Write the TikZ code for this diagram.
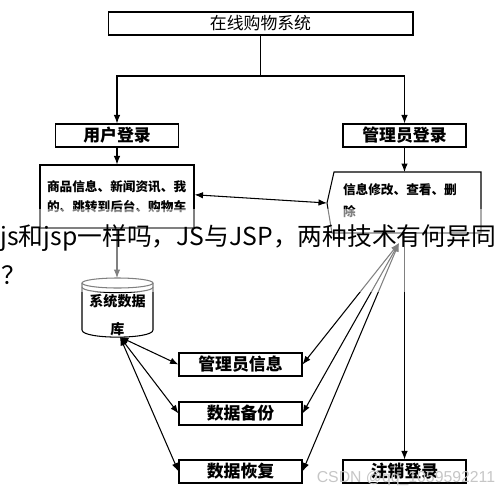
\documentclass[tikz,border=0pt]{standalone}
\usepackage{fontspec}
\setmainfont{Liberation Sans}
\newfontfamily\cjk{Noto Sans CJK SC}
\usetikzlibrary{arrows.meta}

\begin{document}
\begin{tikzpicture}[x=0.02cm,y=-0.02cm,line width=0.6pt,
		box/.style={draw,minimum width=2.46cm,minimum height=0.46cm,inner sep=0pt,font=\cjk\bfseries\fontsize{9.6}{10}\selectfont},
		arr/.style={-{Latex[length=1.7mm,width=1.3mm]}},
		darr/.style={{Latex[length=1.7mm,width=1.3mm]}-{Latex[length=1.7mm,width=1.3mm]}}]
		\useasboundingbox (0,0) rectangle (500,490);
		\node[box,minimum width=6.1cm,font=\cjk\fontsize{9.6}{10}\selectfont] (sys) at (260.5,23.5) {在线购物系统};
		\node[box] (user) at (117,135.5) {用户登录};
		\node[box] (admin) at (404.5,135.5) {管理员登录};
		\node[box,minimum width=3.08cm,minimum height=1.26cm,text width=2.8cm,align=left,font=\cjk\bfseries\fontsize{7.2}{11.3}\selectfont] (shop) at (117,196.5) {商品信息、新闻资讯、我\\的、跳转到后台、购物车};
		\node[box] (info) at (240.5,364.5) {管理员信息};
		\node[box] (backup) at (240.5,413.5) {数据备份};
		\node[box] (restore) at (240.5,471.5) {数据恢复};
		\node[box] (logout) at (404.5,471.5) {注销登录};
		\coordinate (split) at (260.5,76);
		\coordinate (tip) at (327,203);
		\coordinate (editbot) at (404.5,233);
		\coordinate (fan) at (399,243);
		\coordinate (dbtop) at (117,278);
		\coordinate (dbbot) at (120,337);
		% admin pentagon
		\draw (334,172) -- (481,172) -- (481,233) -- (332,233) -- (tip) -- cycle;
		\node[inner sep=0pt,text width=2.4cm,align=left,font=\cjk\bfseries\fontsize{7.2}{12.5}\selectfont] (edit) at (403,201) {信息修改、查看、删\\除};
		% database
		\draw (117.5,283) ellipse [x radius=35.5,y radius=5];
		\draw (82,287) .. controls (82,294.5) and (153,294.5) .. (153,287);
		\draw (82,283) -- (82,330) .. controls (82,339.5) and (153,339.5) .. (153,330) -- (153,283);
		\node[inner sep=0pt,align=center,font=\cjk\bfseries\fontsize{8}{16}\selectfont] (db) at (117.5,315) {系统数据\\库};
		\draw (sys.south) -- (split);
		\draw[arr] (split) -| (user.north);
		\draw[arr] (split) -| (admin.north);
		\draw[arr] (user.south) -- (shop.north);
		\draw[arr] (admin.south) -- (admin.south |- 0,172);
		\draw[darr] ([yshift=1pt]shop.east) -- (tip);
		\draw[arr] (shop.south) -- (dbtop);
		\draw[arr] (editbot) -- (logout.north);
		\draw[darr] (dbbot) -- (info.west);
		\draw[darr] (dbbot) -- (backup.west);
		\draw[darr] (dbbot) -- (restore.west);
		\draw[darr] (fan) -- (info.east);
		\draw[darr] (fan) -- (backup.east);
		\draw[darr] (fan) -- (restore.east);
		\fill[white,opacity=0.5] (0,209) rectangle (500,292);
		\node[anchor=west,inner sep=0pt,font=\cjk\fontsize{14.1}{16}\selectfont] (q1) at (0,238) {js和jsp一样吗，JS与JSP，两种技术有何异同};
		\node[inner sep=0pt,font=\cjk\fontsize{14.1}{16}\selectfont] (q2) at (14,275) {？};
		\node[inner sep=0pt,text=gray!45,font=\fontsize{9}{10}\selectfont] (wm) at (406,478) {CSDN @qq\_1059592211};
\end{tikzpicture}
\end{document}
